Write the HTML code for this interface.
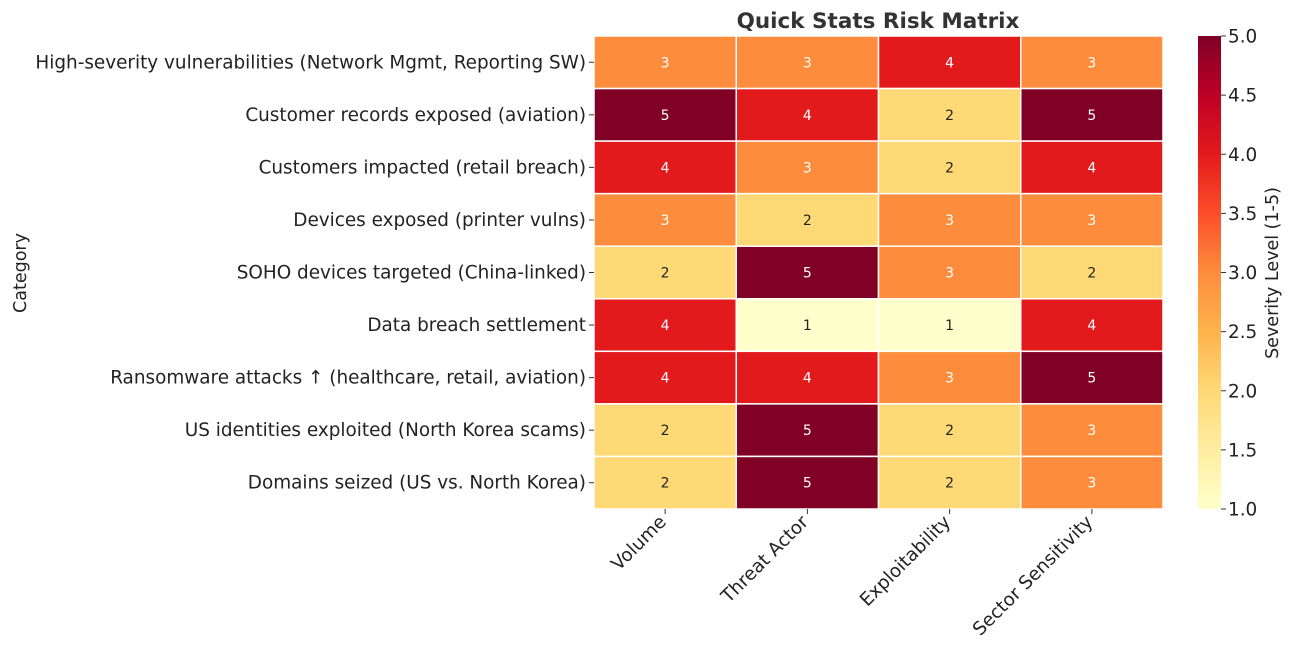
<!DOCTYPE html>
<html><head><meta charset="utf-8"><style>
body{margin:0;background:#fff;}
svg{display:block;font-family:"DejaVu Sans","Liberation Sans",sans-serif;}
</style></head><body>
<svg id="chart" width="1292" height="653">
<text x="878" y="28" text-anchor="middle" font-size="21.5" font-weight="bold" fill="#333">Quick Stats Risk Matrix</text>
<text transform="translate(26,273) rotate(-90)" text-anchor="middle" font-size="17.5" fill="#222">Category</text>
<text transform="translate(1278,273) rotate(-90)" text-anchor="middle" font-size="17.5" fill="#222">Severity Level (1-5)</text>
<defs><linearGradient id="cg" x1="0" y1="1" x2="0" y2="0">
<stop offset="0" stop-color="#ffffcc"/><stop offset="0.125" stop-color="#ffeda0"/><stop offset="0.25" stop-color="#fed976"/><stop offset="0.375" stop-color="#feb24c"/><stop offset="0.5" stop-color="#fd8d3c"/><stop offset="0.625" stop-color="#fc4e2a"/><stop offset="0.75" stop-color="#e31a1c"/><stop offset="0.875" stop-color="#bd0026"/><stop offset="1" stop-color="#800026"/>
</linearGradient></defs>
<rect x="1198" y="36" width="23" height="473" fill="url(#cg)"/>
<g id="cells"></g><g id="labels"></g>
</svg>
<script>
const categories=["High-severity vulnerabilities (Network Mgmt, Reporting SW)","Customer records exposed (aviation)","Customers impacted (retail breach)","Devices exposed (printer vulns)","SOHO devices targeted (China-linked)","Data breach settlement","Ransomware attacks \u2191 (healthcare, retail, aviation)","US identities exploited (North Korea scams)","Domains seized (US vs. North Korea)"];
const columns=["Volume","Threat Actor","Exploitability","Sector Sensitivity"];
const volume=[3,5,4,3,2,4,4,2,2];
const threatActor=[3,4,3,2,5,1,4,5,5];
const exploitability=[4,2,2,3,3,1,3,2,2];
const sectorSensitivity=[3,5,4,3,2,4,5,3,3];
const cbTicks=[1.0,1.5,2.0,2.5,3.0,3.5,4.0,4.5,5.0];
const series=[volume,threatActor,exploitability,sectorSensitivity];
const colors={1:"#ffffcc",2:"#fed976",3:"#fd8d3c",4:"#e31a1c",5:"#800026"};
const L=594,R=1163,T=36,B=509;
const cw=(R-L)/columns.length, rh=(B-T)/categories.length;
const xs=i=>L+i*cw, ys=j=>T+j*rh, cy=v=>B-(v-1)/4*(B-T);
const NS="http://www.w3.org/2000/svg";
const svg=document.getElementById('chart');
function mk(t,a,p){const e=document.createElementNS(NS,t);for(const k in a)e.setAttribute(k,a[k]);(p||svg).appendChild(e);return e;}
const cells=document.getElementById('cells'),labels=document.getElementById('labels');
series.forEach((s,i)=>s.forEach((v,j)=>{
 const r=mk('rect',{x:xs(i),y:ys(j),width:cw,height:rh,fill:colors[v],stroke:"#fff","stroke-width":1.5},cells);
 
 
 const t=mk('text',{x:xs(i)+cw/2,y:ys(j)+rh/2+5,"text-anchor":"middle","font-size":14,fill:v>=3?"#fff":"#222"},labels);
 t.textContent=v;
 
 
}));
categories.forEach((c,j)=>{
 mk('line',{x1:L-5,x2:L,y1:ys(j)+rh/2,y2:ys(j)+rh/2,stroke:"#333"});
 const t=mk('text',{x:L-8,y:ys(j)+rh/2+6,"text-anchor":"end","font-size":18.4,fill:"#222"});
 t.textContent=c;
 
 
});
columns.forEach((c,i)=>{
 const x=xs(i)+cw/2;
 mk('line',{x1:x,x2:x,y1:B,y2:B+5,stroke:"#333"});
 const t=mk('text',{transform:`translate(${x+2},${B+14}) rotate(-45)`,"text-anchor":"end","font-size":18.4,fill:"#222"});
 t.textContent=c;
 
 
});
cbTicks.forEach(v=>{
 mk('line',{x1:1221,x2:1226,y1:cy(v),y2:cy(v),stroke:"#333"});
 const t=mk('text',{x:1228,y:cy(v)+6.5,"font-size":18.4,fill:"#222"});
 t.textContent=v.toFixed(1);
 
 
});
</script>
</body></html>
